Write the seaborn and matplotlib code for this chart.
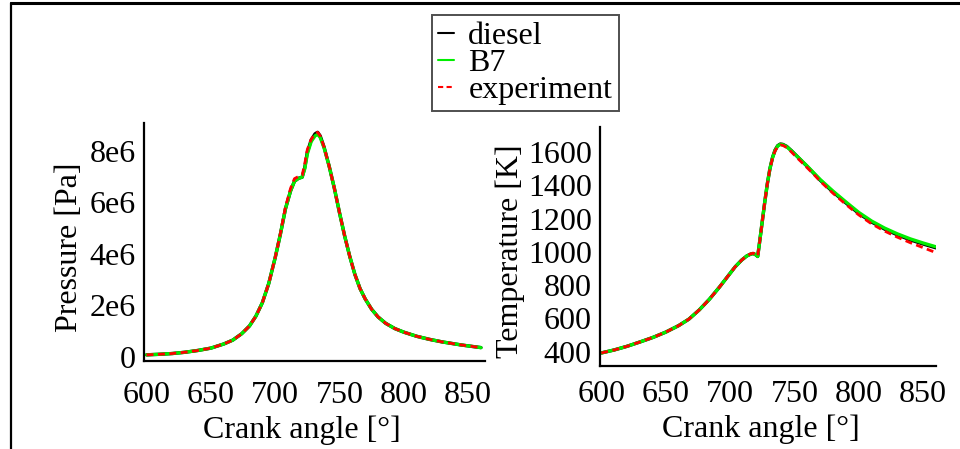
import matplotlib
matplotlib.use("Agg")
import matplotlib.pyplot as plt
from matplotlib.lines import Line2D
import seaborn as sns
import pandas as pd

# crank angle grid for pressure curves [deg]
p_angle = [600, 610, 620, 630, 640, 650, 660, 667, 674, 680, 685, 690, 695, 700, 704, 708,
           712, 715, 718, 721, 723, 725, 728, 731, 733, 735, 738, 742, 746, 750, 754, 758,
           762, 766, 770, 775, 780, 786, 793, 800, 810, 820, 830, 845, 860]
# pressure [Pa], in units of 1e6
p_diesel = [0.08, 0.10, 0.13, 0.18, 0.25, 0.34, 0.50, 0.65, 0.90, 1.20, 1.58, 2.10, 2.85, 3.85, 4.75, 5.75,
            6.45, 6.82, 6.93, 6.98, 7.35, 7.95, 8.42, 8.66, 8.72, 8.58, 8.15, 7.40, 6.55, 5.60, 4.70, 3.90,
            3.20, 2.65, 2.25, 1.85, 1.55, 1.30, 1.10, 0.96, 0.80, 0.68, 0.58, 0.46, 0.36]
p_b7 = [0.08, 0.10, 0.13, 0.18, 0.25, 0.34, 0.50, 0.65, 0.90, 1.20, 1.58, 2.10, 2.85, 3.85, 4.75, 5.75,
        6.45, 6.82, 6.93, 6.98, 7.30, 7.88, 8.36, 8.58, 8.64, 8.52, 8.12, 7.40, 6.55, 5.60, 4.70, 3.90,
        3.20, 2.65, 2.25, 1.85, 1.55, 1.30, 1.10, 0.96, 0.80, 0.68, 0.58, 0.46, 0.36]
p_exp = [0.08, 0.10, 0.13, 0.18, 0.25, 0.34, 0.50, 0.65, 0.90, 1.20, 1.58, 2.10, 2.85, 3.85, 4.78, 5.82,
         6.55, 6.92, 7.00, 7.05, 7.50, 8.05, 8.45, 8.66, 8.72, 8.58, 8.15, 7.40, 6.55, 5.60, 4.70, 3.90,
         3.20, 2.65, 2.25, 1.85, 1.55, 1.30, 1.10, 0.96, 0.80, 0.68, 0.58, 0.46, 0.36]

# crank angle grid for temperature curves [deg]
t_angle = [600, 610, 620, 630, 640, 650, 660, 668, 676, 684, 692, 698, 704, 709, 713, 716,
           718, 720, 721.5, 723, 725, 727, 729, 731, 733, 735, 737, 739, 741, 744, 748, 752,
           756, 760, 765, 770, 775, 780, 790, 800, 810, 820, 830, 840, 850, 860]
# temperature [K]
t_diesel = [392, 410, 432, 458, 485, 517, 556, 595, 650, 715, 790, 850, 910, 950, 975, 986,
            990, 982, 972, 1060, 1180, 1300, 1410, 1500, 1567, 1612, 1638, 1648, 1646, 1634, 1606, 1575,
            1544, 1513, 1472, 1431, 1395, 1360, 1294, 1231, 1179, 1137, 1102, 1072, 1047, 1024]
t_b7 = [392, 410, 432, 458, 485, 517, 556, 595, 650, 715, 790, 850, 910, 950, 975, 986,
        990, 982, 972, 1060, 1180, 1300, 1410, 1500, 1565, 1610, 1636, 1646, 1644, 1632, 1605, 1575,
        1545, 1515, 1475, 1435, 1400, 1365, 1300, 1237, 1185, 1143, 1108, 1078, 1053, 1030]
t_exp = [392, 410, 432, 458, 485, 517, 556, 595, 650, 715, 790, 850, 910, 950, 976, 988,
         992, 985, 975, 1060, 1180, 1300, 1410, 1500, 1562, 1606, 1632, 1642, 1640, 1627, 1598, 1566,
         1536, 1505, 1466, 1425, 1388, 1352, 1285, 1222, 1168, 1125, 1088, 1055, 1025, 995]

series = ["diesel", "B7", "experiment"]
colors = ["black", "#00ee00", "red"]

x_ticks = [600, 650, 700, 750, 800, 850]
p_ticks = [0, 2e6, 4e6, 6e6, 8e6]
p_tick_labels = ["0", "2e6", "4e6", "6e6", "8e6"]
t_ticks = [400, 600, 800, 1000, 1200, 1400, 1600]

sns.set_theme(style="white")
plt.rcParams["font.family"] = ["Liberation Serif", "DejaVu Serif"]
plt.rcParams["font.size"] = 23
plt.rcParams["text.color"] = "black"
plt.rcParams["axes.labelcolor"] = "black"

fig = plt.figure(figsize=(9.6, 4.49), dpi=100)
ax1 = fig.add_axes([0.150, 0.196, 0.355, 0.530])
ax2 = fig.add_axes([0.625, 0.185, 0.350, 0.532])

p_vals = {"diesel": p_diesel, "B7": p_b7, "experiment": p_exp}
t_vals = {"diesel": t_diesel, "B7": t_b7, "experiment": t_exp}

for name, col in zip(series, colors):
    dfp = pd.DataFrame({"angle": p_angle, "p": [v * 1e6 for v in p_vals[name]]})
    dft = pd.DataFrame({"angle": t_angle, "T": t_vals[name]})
    if name == "experiment":
        kw = dict(lw=2.0, dashes=(2.5, 1.6))
    else:
        kw = dict(lw=2.4)
    sns.lineplot(data=dfp, x="angle", y="p", color=col, ax=ax1, label=name, **kw)
    sns.lineplot(data=dft, x="angle", y="T", color=col, ax=ax2, label=name, **kw)

for ax in (ax1, ax2):
    ax.get_legend().remove()
    for s in ("top", "right"):
        ax.spines[s].set_visible(False)
    for s in ("left", "bottom"):
        ax.spines[s].set_color("black")
        ax.spines[s].set_linewidth(1.6)
    ax.tick_params(length=0, labelsize=23, colors="black")
    ax.tick_params(axis="y", pad=6)
    ax.set_xticks(x_ticks)
    ax.set_xlabel("Crank angle [°]", fontsize=23, color="black")

ax1.tick_params(axis="x", pad=14.5)
ax2.tick_params(axis="x", pad=10)

ax1.set_xlim(598, 863)
ax1.set_ylim(-0.16e6, 9.08e6)
ax1.set_yticks(p_ticks)
ax1.set_yticklabels(p_tick_labels)
ax1.set_ylabel("Pressure [Pa]", fontsize=23, color="black")
ax1.yaxis.set_label_coords(-0.175, 0.48)
ax1.xaxis.set_label_coords(0.463, -0.293)
ax1.xaxis.label.set_va("center")

ax2.set_xlim(599, 860)
ax2.set_ylim(314, 1750)
ax2.set_yticks(t_ticks)
ax2.set_ylabel("Temperature [K]", fontsize=23, color="black")
ax2.yaxis.set_label_coords(-0.222, 0.48)
ax2.xaxis.set_label_coords(0.478, -0.265)
ax2.xaxis.label.set_va("center")

handles, labels = ax1.get_legend_handles_labels()
leg = fig.legend(handles, labels, loc="center", bbox_to_anchor=(0.547, 0.859),
                 fontsize=23, frameon=True, fancybox=False, handlelength=0.5,
                 handletextpad=0.45, borderpad=0.2, labelspacing=-0.08,
                 borderaxespad=0)
leg.get_frame().set_edgecolor("#222222")
leg.get_frame().set_linewidth(1.4)
for h in leg.get_lines():
    h.set_linewidth(1.5)

# page frame (top and left edges)
fig.add_artist(Line2D([0.0115, 1.0], [0.9935, 0.9935], transform=fig.transFigure,
                      color="black", lw=2.2))
fig.add_artist(Line2D([0.0115, 0.0115], [0.0, 0.9935], transform=fig.transFigure,
                      color="black", lw=1.6))

fig.savefig("out.png", dpi=100)
